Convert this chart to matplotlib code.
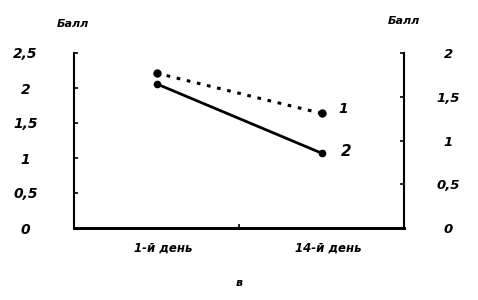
import matplotlib.pyplot as plt

# data
days = ['1-й день', '14-й день']
series1 = [1.77, 1.31]   # dotted, right axis
series2 = [2.06, 1.07]   # solid, left axis
left_ticks = [0, 0.5, 1, 1.5, 2, 2.5]
left_labels = ['0', '0,5', '1', '1,5', '2', '2,5']
right_ticks = [0, 0.5, 1, 1.5, 2]
right_labels = ['0', '0,5', '1', '1,5', '2']

fig = plt.figure(figsize=(4.78, 3.0), dpi=100)
ax = fig.add_axes([74 / 478, 1 - 228 / 300, 330 / 478, 175 / 300])
ax2 = ax.twinx()

x = list(range(len(days)))
ax.plot(x, series2, color='black', lw=2, marker='o', ms=4.5)
ax2.plot(x, series1, color='black', lw=2.2, ls=(0, (1.2, 2.2)), marker='o', ms=5)

ax.set_xlim(-0.5, 1.5)
ax.set_ylim(0, 2.5)
ax2.set_ylim(0, 2)

for a in (ax, ax2):
    a.spines['top'].set_visible(False)
    a.spines['left'].set_linewidth(1.5)
    a.spines['right'].set_linewidth(1.5)
    a.spines['bottom'].set_linewidth(2)

ax.spines['right'].set_visible(False)
ax2.spines['left'].set_visible(False)

font = dict(fontweight='bold', fontstyle='italic', family='DejaVu Sans')

ax.set_yticks(left_ticks)
ax.set_yticklabels(left_labels, **font, fontsize=10)
ax.tick_params(axis='y', direction='in', length=3, width=1.2, pad=35)
for t in ax.get_yticklabels():
    t.set_horizontalalignment('center')

ax2.set_yticks(right_ticks)
ax2.set_yticklabels(right_labels, **font, fontsize=9.5)
ax2.tick_params(axis='y', direction='in', length=3, width=1.2, pad=32)
for t in ax2.get_yticklabels():
    t.set_horizontalalignment('center')

ax.set_xticks([0.5])
ax.set_xticklabels([''])
ax.tick_params(axis='x', direction='in', length=3, width=1.2)

for xi, lab in zip(x, days):
    ax.text(xi + 0.04, -0.29, lab, ha='center', va='center', fontsize=8.5, **font)

ax.text(0.5, -0.78, 'в', ha='center', va='center', fontsize=8, **font)

fig.text(73 / 478, 1 - 24 / 300, 'Балл', ha='center', va='center', fontsize=8, **font)
fig.text(404 / 478, 1 - 21 / 300, 'Балл', ha='center', va='center', fontsize=8, **font)

ax2.text(1.13, series1[1] + 0.05, '1', ha='center', va='center', fontsize=10, **font)
ax.text(1.15, series2[1] + 0.03, '2', ha='center', va='center', fontsize=11, **font)

fig.savefig('out.png', dpi=100)
